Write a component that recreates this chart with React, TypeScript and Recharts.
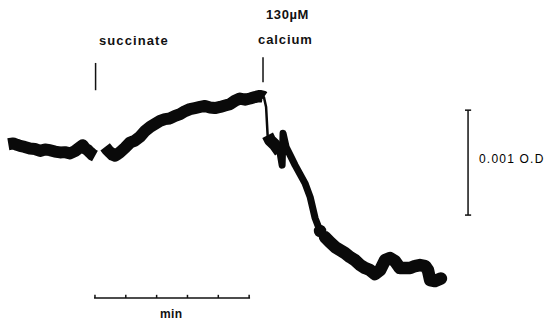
import { LineChart, Line, XAxis, YAxis, ReferenceLine } from "recharts";

// time in minutes, absorbance change in units of 0.001 O.D.
const baseTime = [0.27, 0.43, 0.55, 0.65, 0.8, 0.97, 1.13, 1.3, 1.46, 1.62, 1.78, 1.95, 2.1, 2.27, 2.43, 2.59, 2.68, 2.76, 2.84, 2.92, 3.0, 3.08];
const baseOD = [1.675, 1.683, 1.67, 1.66, 1.65, 1.635, 1.63, 1.612, 1.625, 1.619, 1.605, 1.597, 1.6, 1.588, 1.61, 1.645, 1.665, 1.635, 1.62, 1.597, 1.575, 1.562];

const succTime = [3.41, 3.49, 3.57, 3.65, 3.73, 3.81, 3.89, 4.05, 4.22, 4.38, 4.54, 4.7, 4.87, 5.03, 5.19, 5.35, 5.51, 5.68, 5.84, 6.0, 6.16, 6.32, 6.49, 6.65, 6.81, 6.97, 7.14, 7.3, 7.46, 7.62, 7.78, 7.95, 8.11, 8.27, 8.43, 8.53, 8.56];
const succOD = [1.65, 1.62, 1.597, 1.575, 1.565, 1.58, 1.597, 1.64, 1.692, 1.71, 1.746, 1.8, 1.841, 1.87, 1.898, 1.915, 1.921, 1.945, 1.962, 1.99, 2.01, 2.02, 2.031, 2.04, 2.026, 2.02, 2.031, 2.045, 2.057, 2.09, 2.111, 2.1, 2.111, 2.125, 2.136, 2.13, 2.124];

// pen jump right after the calcium addition
const jumpTime = [8.56, 8.63, 8.68];
const jumpOD = [2.124, 2.03, 1.76];
// first part of the fall, broad trace
const fallTime = [8.68, 8.76, 8.92, 9.08];
const fallOD = [1.76, 1.714, 1.667, 1.6];
// steep part of the fall, narrow trace
const dropTime = [9.08, 9.15, 9.18, 9.28, 9.41, 9.57, 9.73, 9.89, 10.06, 10.22, 10.38, 10.46];
const dropOD = [1.6, 1.476, 1.781, 1.648, 1.571, 1.476, 1.39, 1.305, 1.171, 0.971, 0.848, 0.82];

const caTime = [10.38, 10.54, 10.7, 10.87, 11.03, 11.19, 11.35, 11.51, 11.68, 11.84, 12.0, 12.16, 12.33, 12.49, 12.65, 12.81, 12.97, 13.14, 13.3, 13.46, 13.62, 13.79, 13.88, 13.95, 14.11, 14.3];
const caOD = [0.848, 0.79, 0.743, 0.695, 0.667, 0.638, 0.6, 0.571, 0.524, 0.495, 0.476, 0.438, 0.476, 0.571, 0.59, 0.562, 0.495, 0.495, 0.495, 0.514, 0.524, 0.514, 0.476, 0.381, 0.371, 0.395];

const minuteTicks = [3.08, 4.08, 5.08, 6.08, 7.08, 8.08];

type Key = "thick" | "mid" | "thin" | "tail";
type Row = { t: number } & Record<Key, number | null>;
const rows: Row[] = [];
const put = (times: number[], vals: number[], key: Key) => {
  times.forEach((t, i) => {
    let r = rows.find((x) => x.t === t);
    if (!r) {
      r = { t, thick: null, mid: null, thin: null, tail: null };
      rows.push(r);
    }
    r[key] = vals[i];
  });
};
put(baseTime, baseOD, "thick");
put(succTime, succOD, "thick");
put(jumpTime, jumpOD, "thin");
put(fallTime, fallOD, "thick");
put(dropTime, dropOD, "mid");
put(caTime, caOD, "tail");
// gap in the trace while succinate is added
rows.push({ t: 3.25, thick: null, mid: null, thin: null, tail: null });
const data = rows.sort((a, b) => a.t - b.t);

const txt = {
  position: "absolute" as const,
  fontFamily: "'Liberation Sans', Arial, sans-serif",
  fontWeight: "bold" as const,
  color: "#111",
  whiteSpace: "nowrap" as const,
  lineHeight: 1,
};

const lineProps = {
  type: "linear" as const,
  stroke: "#0a0a0a",
  strokeLinejoin: "round" as const,
  dot: false,
  activeDot: false,
  connectNulls: false,
  isAnimationActive: false,
};

export default function App() {
  return (
    <div style={{ position: "absolute", left: 0, top: 0, width: 555, height: 320, background: "#fff" }}>
      <LineChart width={555} height={320} data={data} margin={{ top: 0, right: 0, bottom: 0, left: 0 }}>
        <XAxis dataKey="t" type="number" domain={[0, 18]} hide />
        <YAxis type="number" domain={[0, 3.05]} hide />
        {/* addition markers */}
        <ReferenceLine segment={[{ x: 3.1, y: 2.45 }, { x: 3.1, y: 2.19 }]} stroke="#111" strokeWidth={1.5} />
        <ReferenceLine segment={[{ x: 8.53, y: 2.505 }, { x: 8.53, y: 2.267 }]} stroke="#111" strokeWidth={1.5} />
        {/* 0.001 O.D. scale bar */}
        <ReferenceLine segment={[{ x: 15.18, y: 2.0 }, { x: 15.18, y: 1.0 }]} stroke="#111" strokeWidth={1.5} />
        <ReferenceLine segment={[{ x: 15.08, y: 2.0 }, { x: 15.28, y: 2.0 }]} stroke="#111" strokeWidth={1.5} />
        <ReferenceLine segment={[{ x: 15.08, y: 1.0 }, { x: 15.28, y: 1.0 }]} stroke="#111" strokeWidth={1.5} />
        {/* time bar */}
        <ReferenceLine segment={[{ x: 3.05, y: 0.21 }, { x: 8.11, y: 0.21 }]} stroke="#111" strokeWidth={1.5} />
        {minuteTicks.map((m) => (
          <ReferenceLine key={m} segment={[{ x: m, y: 0.21 }, { x: m, y: 0.24 }]} stroke="#111" strokeWidth={1.5} />
        ))}
        <Line {...lineProps} dataKey="thick" strokeWidth={12} />
        <Line {...lineProps} dataKey="mid" strokeWidth={7} strokeLinecap="round" />
        <Line {...lineProps} dataKey="thin" strokeWidth={2.5} strokeLinecap="round" />
        <Line {...lineProps} dataKey="tail" strokeWidth={12.5} strokeLinecap="round" />
      </LineChart>
      <div style={{ ...txt, left: 99, top: 34, fontSize: 13, letterSpacing: 1.1 }}>succinate</div>
      <div style={{ ...txt, left: 266, top: 8, fontSize: 13, letterSpacing: 0.6 }}>130µM</div>
      <div style={{ ...txt, left: 258, top: 33, fontSize: 13, letterSpacing: 0.9 }}>calcium</div>
      <div style={{ ...txt, left: 479, top: 153, fontSize: 12, letterSpacing: 1.2, fontWeight: "normal", color: "#000" }}>0.001 O.D</div>
      <div style={{ ...txt, left: 160, top: 308, fontSize: 12, letterSpacing: 0.4 }}>min</div>
    </div>
  );
}
